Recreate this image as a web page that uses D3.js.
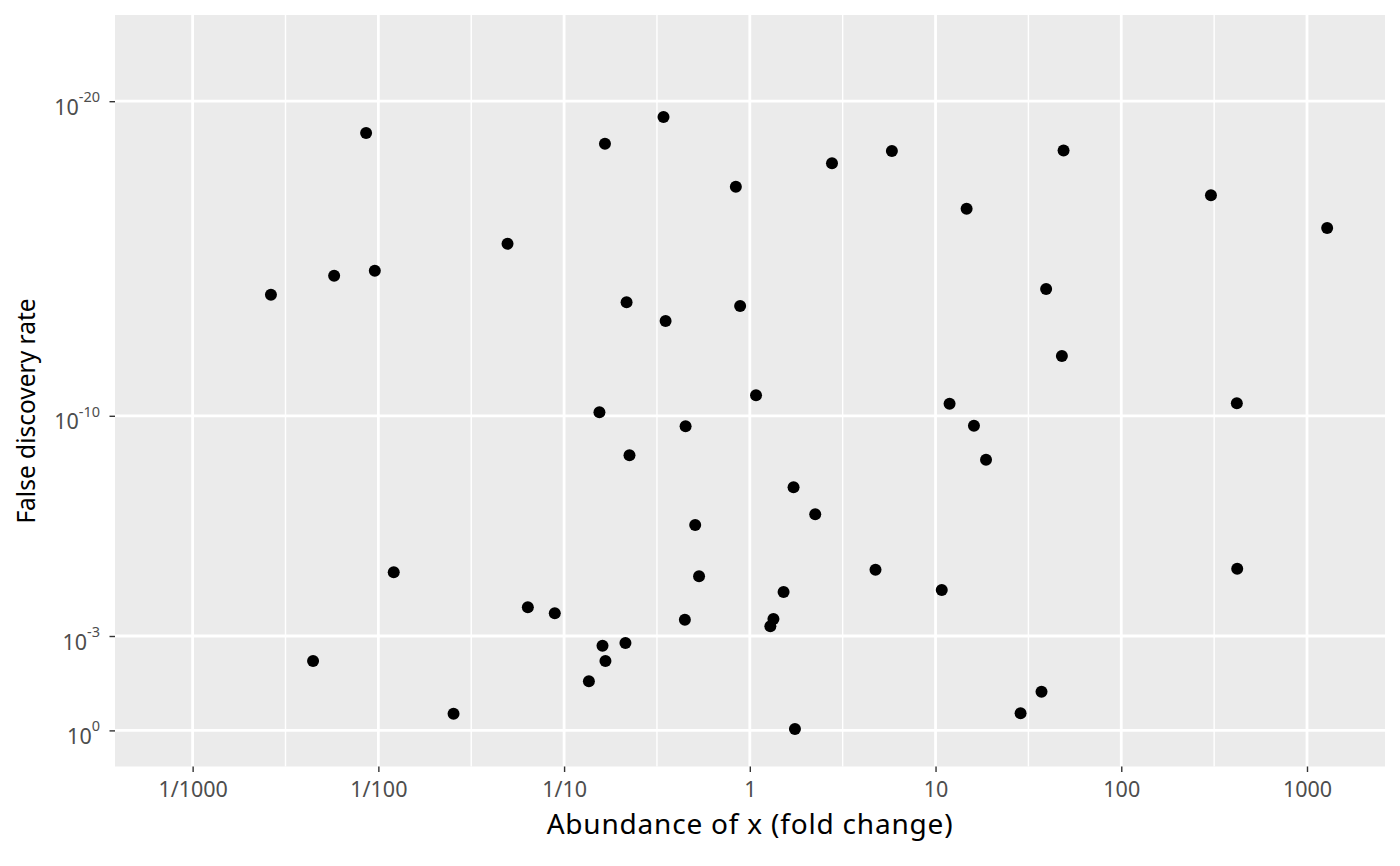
<!DOCTYPE html>
<html>
<head>
<meta charset="utf-8">
<script src="https://cdn.jsdelivr.net/npm/d3@7"></script>
<style>
  body { margin: 0; background: #ffffff; }
  svg { display: block; font-family: "Noto Sans", "Open Sans", sans-serif; }
  .tick text { fill: #4d4d4d; font-size: 21.5px; font-family: "Noto Sans", "Open Sans", sans-serif; }
  .tick line { stroke: #333333; stroke-width: 1.4px; }
  .axis-title { fill: #000000; font-family: "Noto Sans", "Open Sans", sans-serif; }
</style>
</head>
<body>
<div id="chart"></div>
<script>
// fold change of x, one value per gene
var foldChange = [
  0.00859, 0.00264, 0.00578, 0.00957, 0.0496, 0.166, 0.343, 0.217, 0.352, 0.841,
  0.887, 2.77, 5.82, 14.7, 48.9, 39.4, 47.9, 304, 1284, 419,
  1.08, 0.155, 0.451, 0.225, 11.9, 16.1, 18.7, 1.72, 2.25, 0.508,
  0.0121, 0.533, 4.75, 10.8, 421, 0.0638, 0.0891, 0.447, 1.52, 1.34,
  1.29, 0.214, 0.161, 0.167, 0.00445, 0.136, 37.2, 0.0254, 28.7, 1.75
];

// false discovery rate, same order
var fdr = [
  1.02e-19, 1.41e-14, 3.55e-15, 2.45e-15, 3.39e-16, 2.24e-19, 3.16e-20, 2.45e-14, 9.77e-14, 5.25e-18,
  3.24e-14, 9.33e-19, 3.80e-19, 2.63e-17, 3.72e-19, 9.33e-15, 1.26e-12, 9.77e-18, 1.07e-16, 3.98e-11,
  2.24e-11, 7.76e-11, 2.15e-10, 1.79e-9, 4.17e-11, 2.06e-10, 2.48e-9, 1.87e-8, 1.35e-7, 2.95e-7,
  9.42e-6, 1.26e-5, 7.78e-6, 3.44e-5, 7.23e-6, 1.22e-4, 1.89e-4, 3.03e-4, 3.98e-5, 2.87e-4,
  4.90e-4, 1.66e-3, 2.03e-3, 6.22e-3, 6.22e-3, 2.75e-2, 5.89e-2, 0.294, 0.286, 0.902
];

var xTicks = [0.001, 0.01, 0.1, 1, 10, 100, 1000];
var xTickLabels = ["1/1000", "1/100", "1/10", "1", "10", "100", "1000"];
var yTickExponents = [0, -3, -10, -20];

var width = 1400, height = 866;
var margin = {top: 15, right: 15, bottom: 99.5, left: 115};
var panelW = width - margin.left - margin.right;
var panelH = height - margin.top - margin.bottom;

var svg = d3.select("#chart").append("svg")
    .attr("width", width)
    .attr("height", height);

// x: log scale on fold change
var xScale = d3.scaleLog()
    .domain([Math.pow(10, -3.418), Math.pow(10, 3.42)])
    .range([0, panelW]);

// y: -log10(FDR), drawn linearly
var yScale = d3.scaleLinear()
    .domain([-1.148, 22.74])
    .range([panelH, 0]);

var g = svg.append("g")
    .attr("transform", "translate(" + margin.left + "," + margin.top + ")");

g.append("rect")
    .attr("width", panelW)
    .attr("height", panelH)
    .attr("fill", "#ebebeb");

// minor grid: halfway between decades
var minorX = xTicks.slice(0, -1).map(function(d) { return d * Math.sqrt(10); });
g.selectAll("line.minor-x")
    .data(minorX)
    .enter()
    .append("line")
    .attr("class", "minor-x")
    .attr("x1", function(d) { return xScale(d); })
    .attr("x2", function(d) { return xScale(d); })
    .attr("y1", 0)
    .attr("y2", panelH)
    .attr("stroke", "#ffffff")
    .attr("stroke-width", 1.4);

g.selectAll("line.major-x")
    .data(xTicks)
    .enter()
    .append("line")
    .attr("class", "major-x")
    .attr("x1", function(d) { return xScale(d); })
    .attr("x2", function(d) { return xScale(d); })
    .attr("y1", 0)
    .attr("y2", panelH)
    .attr("stroke", "#ffffff")
    .attr("stroke-width", 2.8);

g.selectAll("line.major-y")
    .data(yTickExponents)
    .enter()
    .append("line")
    .attr("class", "major-y")
    .attr("x1", 0)
    .attr("x2", panelW)
    .attr("y1", function(d) { return yScale(-d); })
    .attr("y2", function(d) { return yScale(-d); })
    .attr("stroke", "#ffffff")
    .attr("stroke-width", 2.8);

// points
g.selectAll("circle")
    .data(foldChange)
    .enter()
    .append("circle")
    .attr("cx", function(d) { return xScale(d); })
    .attr("cy", function(d, i) { return yScale(-Math.log10(fdr[i])); })
    .attr("r", 6)
    .attr("fill", "#000000");

// x axis
var xAxis = d3.axisBottom(xScale)
    .tickValues(xTicks)
    .tickFormat(function(d, i) { return xTickLabels[i]; })
    .tickSize(5.5)
    .tickPadding(4.5);

var gx = g.append("g")
    .attr("transform", "translate(0," + panelH + ")")
    .call(xAxis);
gx.select(".domain").remove();
gx.selectAll(".tick text").attr("dy", "0.95em");

// y axis with 10^n labels
var yAxis = d3.axisLeft(yScale)
    .tickValues(yTickExponents.map(function(e) { return -e; }))
    .tickFormat("")
    .tickSize(5.5);

var gy = g.append("g").call(yAxis);
gy.select(".domain").remove();
gy.selectAll(".tick text").remove();
gy.selectAll(".tick").each(function(d) {
    var t = d3.select(this).append("text")
        .attr("x", -15)
        .attr("y", 13)
        .attr("text-anchor", "end")
        .style("font-size", "21.5px")
        .style("fill", "#4d4d4d");
    t.append("tspan").text("10");
    t.append("tspan")
        .attr("dy", -12.5)
        .style("font-size", "14.5px")
        .text(d === 0 ? "0" : String(-d));
});

// axis titles
svg.append("text")
    .attr("class", "axis-title")
    .attr("x", margin.left + panelW / 2)
    .attr("y", 834)
    .attr("text-anchor", "middle")
    .attr("font-size", "28px")
    .attr("letter-spacing", "0.8px")
    .text("Abundance of x (fold change)");

svg.append("text")
    .attr("class", "axis-title")
    .attr("transform", "translate(35,411) rotate(-90)")
    .attr("text-anchor", "middle")
    .attr("font-size", "24.5px")
    .text("False discovery rate");
</script>
</body>
</html>
